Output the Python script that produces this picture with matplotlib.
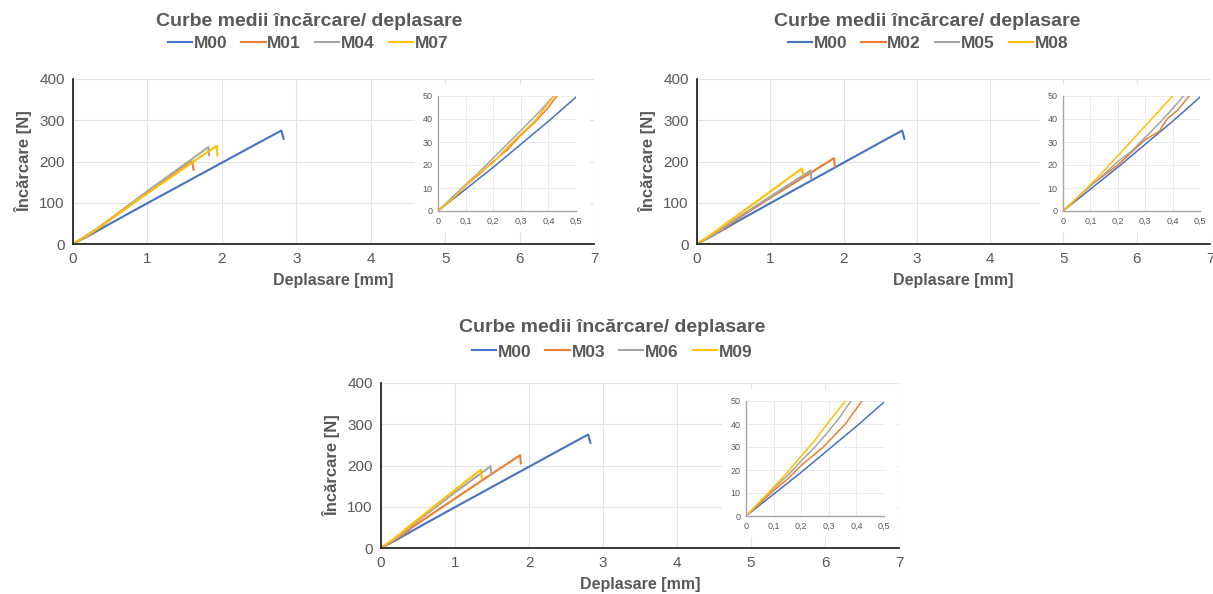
import matplotlib
matplotlib.use("Agg")
import matplotlib.pyplot as plt
from matplotlib.patches import Rectangle
from matplotlib.ticker import FuncFormatter, MultipleLocator
from matplotlib import font_manager

# fonts: narrow Arial-like if available
names = {f.name for f in font_manager.fontManager.ttflist}
fam = 'Liberation Sans Narrow' if 'Liberation Sans Narrow' in names else 'Liberation Sans'
plt.rcParams['font.family'] = [fam, 'DejaVu Sans']

# ---- data ----
m00_x = [0, 0.1, 0.2, 0.3, 0.4, 0.5, 1.0, 1.5, 2.0, 2.5, 2.8, 2.83]
m00_y = [0, 9.5, 19, 29, 39, 49.5, 99, 148, 197, 246, 275, 255]

# chart 1
m01_x = [0, 0.05, 0.1, 0.15, 0.2, 0.25, 0.3, 0.35, 0.4, 0.43, 1.0, 1.6, 1.62]
m01_y = [0, 5.5, 11, 16, 21.5, 26.5, 33, 38.5, 45, 50, 124, 200, 180]
m04_x = [0, 0.1, 0.15, 0.2, 0.25, 0.3, 0.35, 0.42, 1.0, 1.5, 1.82, 1.83]
m04_y = [0, 11.5, 17, 23, 29, 35, 41, 50, 128, 193, 235, 215]
m07_x = [0, 0.05, 0.1, 0.15, 0.2, 0.25, 0.3, 0.35, 0.42, 1.0, 1.5, 1.93, 1.94]
m07_y = [0, 5, 11, 16.5, 21, 27.5, 33.5, 39, 50, 123, 185, 238, 215]

# chart 2
m02_x = [0, 0.1, 0.15, 0.2, 0.25, 0.3, 0.35, 0.38, 0.42, 0.46, 1.0, 1.5, 1.87, 1.88]
m02_y = [0, 11, 15.5, 20, 25.5, 31, 34.5, 40, 44, 50, 112, 167, 208, 188]
m05_x = [0, 0.1, 0.15, 0.2, 0.25, 0.3, 0.35, 0.4, 0.44, 1.0, 1.55, 1.56]
m05_y = [0, 11, 16, 21.5, 26, 32, 38, 44.5, 50, 115, 178, 158]
m08_x = [0, 0.05, 0.1, 0.15, 0.2, 0.25, 0.3, 0.35, 0.4, 1.0, 1.43, 1.45]
m08_y = [0, 5.5, 11.5, 17.5, 24, 30.5, 37, 43.5, 50, 127, 183, 168]

# chart 3
m03_x = [0, 0.1, 0.15, 0.2, 0.25, 0.28, 0.32, 0.36, 0.42, 1.0, 1.5, 1.88, 1.89]
m03_y = [0, 11, 16, 22, 27, 30, 35, 40, 50, 120, 180, 225, 205]
m06_x = [0, 0.1, 0.15, 0.2, 0.25, 0.3, 0.34, 0.38, 1.0, 1.48, 1.49]
m06_y = [0, 12, 17.5, 24, 30, 37, 43, 50, 135, 198, 180]
m09_x = [0, 0.1, 0.15, 0.2, 0.25, 0.3, 0.36, 1.0, 1.35, 1.36]
m09_y = [0, 12.5, 19, 26, 33, 41, 50, 141, 190, 170]

labels_1 = ['M00', 'M01', 'M04', 'M07']
labels_2 = ['M00', 'M02', 'M05', 'M08']
labels_3 = ['M00', 'M03', 'M06', 'M09']

colors = ['#4472C4', '#ED7D31', '#A5A5A5', '#FFC000']
txt = '#595959'

fig = plt.figure(figsize=(12.13, 5.94), dpi=100)


def comma(v, pos):
    if abs(v) < 1e-9:
        return '0'
    return ('%.1f' % v).replace('.', ',')


def panel(main_rect, inset_rect, box_rect, series, labels, title_xy, legend_xy):
    ax = fig.add_axes(main_rect)
    for (x, y), c, lab in zip(series, colors, labels):
        ax.plot(x, y, color=c, lw=1.5, label=lab)
    ax.set_xlim(0, 7)
    ax.set_ylim(0, 400)
    ax.xaxis.set_major_locator(MultipleLocator(1))
    ax.yaxis.set_major_locator(MultipleLocator(100))
    ax.grid(True, color='#E3E3E3', lw=0.8)
    ax.set_axisbelow(True)
    for s in ['top', 'right']:
        ax.spines[s].set_visible(False)
    for s in ['left', 'bottom']:
        ax.spines[s].set_color('#262626')
        ax.spines[s].set_linewidth(1.3)
    ax.tick_params(length=0, labelsize=11, labelcolor=txt, pad=6)
    ax.set_xlabel('Deplasare [mm]', fontsize=11.5, fontweight='bold', color=txt, labelpad=5)
    ax.set_ylabel('Încărcare [N]', fontsize=12, fontweight='bold', color=txt, labelpad=5)

    fig.text(title_xy[0], title_xy[1], 'Curbe medii încărcare/ deplasare', ha='center', va='center',
             fontsize=14, fontweight='bold', color=txt)
    handles, labs = ax.get_legend_handles_labels()
    leg = fig.legend(handles, labs, loc='center', bbox_to_anchor=legend_xy, ncol=4, frameon=False,
                     handlelength=1.4, handletextpad=0.1, columnspacing=0.8,
                     prop={'weight': 'bold', 'size': 12.5})
    for t in leg.get_texts():
        t.set_color(txt)

    # white area behind the inset
    fig.patches.append(Rectangle((box_rect[0], box_rect[1]), box_rect[2], box_rect[3],
                                 transform=fig.transFigure, facecolor='white', edgecolor='none', zorder=1))

    ins = fig.add_axes(inset_rect)
    ins.set_zorder(2)
    for (x, y), c in zip(series, colors):
        ins.plot(x, y, color=c, lw=1.1)
    ins.set_xlim(0, 0.5)
    ins.set_ylim(0, 50)
    ins.xaxis.set_major_locator(MultipleLocator(0.1))
    ins.yaxis.set_major_locator(MultipleLocator(10))
    ins.xaxis.set_major_formatter(FuncFormatter(comma))
    ins.grid(True, color='#EBEBEB', lw=0.7)
    ins.set_axisbelow(True)
    for s in ['top', 'right']:
        ins.spines[s].set_visible(False)
    for s in ['left', 'bottom']:
        ins.spines[s].set_color('#A6A6A6')
        ins.spines[s].set_linewidth(1.0)
    ins.tick_params(length=0, labelsize=6.5, labelcolor=txt, pad=4)


W, H = 1213.0, 594.0


def r(x0, y_top, x1, y_bot):
    return [x0 / W, 1 - y_bot / H, (x1 - x0) / W, (y_bot - y_top) / H]


panel(r(73, 79, 594, 244), r(438, 96, 576, 211), r(415, 84, 590, 232),
      [(m00_x, m00_y), (m01_x, m01_y), (m04_x, m04_y), (m07_x, m07_y)], labels_1,
      (309 / W, 1 - 21 / H), (308 / W, 1 - 43 / H))

panel(r(697, 79, 1210, 244), r(1063, 96, 1200, 211), r(1040, 84, 1213, 232),
      [(m00_x, m00_y), (m02_x, m02_y), (m05_x, m05_y), (m08_x, m08_y)], labels_2,
      (927 / W, 1 - 21 / H), (928 / W, 1 - 43 / H))

panel(r(381, 383, 899, 548), r(746, 401, 884, 516), r(722, 389, 897, 537),
      [(m00_x, m00_y), (m03_x, m03_y), (m06_x, m06_y), (m09_x, m09_y)], labels_3,
      (612 / W, 1 - 328 / H), (612 / W, 1 - 352 / H))

fig.savefig('out.png', dpi=100, facecolor='white')
